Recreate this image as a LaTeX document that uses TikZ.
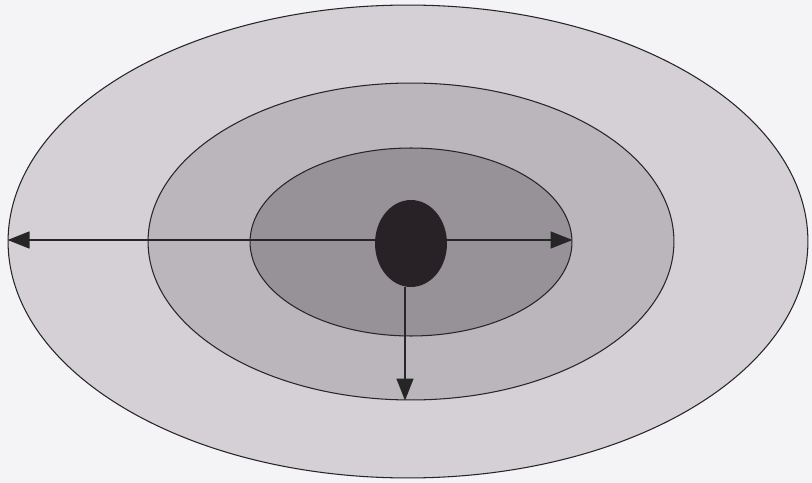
\documentclass[tikz,border=0pt]{standalone}
\usepackage{tikz}
\usetikzlibrary{arrows.meta, shapes.geometric}
\definecolor{paper}{RGB}{244,243,245}
\definecolor{ringouter}{RGB}{212,208,214}
\definecolor{ringmid}{RGB}{186,182,188}
\definecolor{ringinner}{RGB}{150,146,152}
\definecolor{corefill}{RGB}{40,34,38}
\begin{document}
\begin{tikzpicture}[x=0.02cm, y=-0.02cm,
  ring/.style={ellipse, draw=black!85, line width=0.6pt, inner sep=0pt},
  ray/.style={black!85, line width=0.9pt, -{Triangle[length=0.44cm, width=0.34cm]}}]
  \useasboundingbox[fill=paper] (0,0) rectangle (812,483);
  % rings
  \node[ring, fill=ringouter, minimum width=16cm, minimum height=9.46cm] (outer) at (408,241.5) {};
  \node[ring, fill=ringmid, minimum width=10.52cm, minimum height=6.34cm] (middle) at (411,241.5) {};
  \node[ring, fill=ringinner, minimum width=6.44cm, minimum height=3.76cm] (inner) at (411,242) {};
  % core
  \node[ellipse, fill=corefill, inner sep=0pt, minimum width=1.44cm, minimum height=1.74cm] (core) at (411,243.5) {};
  % arrows
  \draw[ray] (core.west |- 0,240) -- (outer.west |- 0,240);
  \draw[ray] (core.east |- 0,240) -- (inner.east |- 0,240);
  \draw[ray] ([xshift=-0.12cm]core.south) -- ([xshift=-0.12cm]middle.south);
\end{tikzpicture}
\end{document}
